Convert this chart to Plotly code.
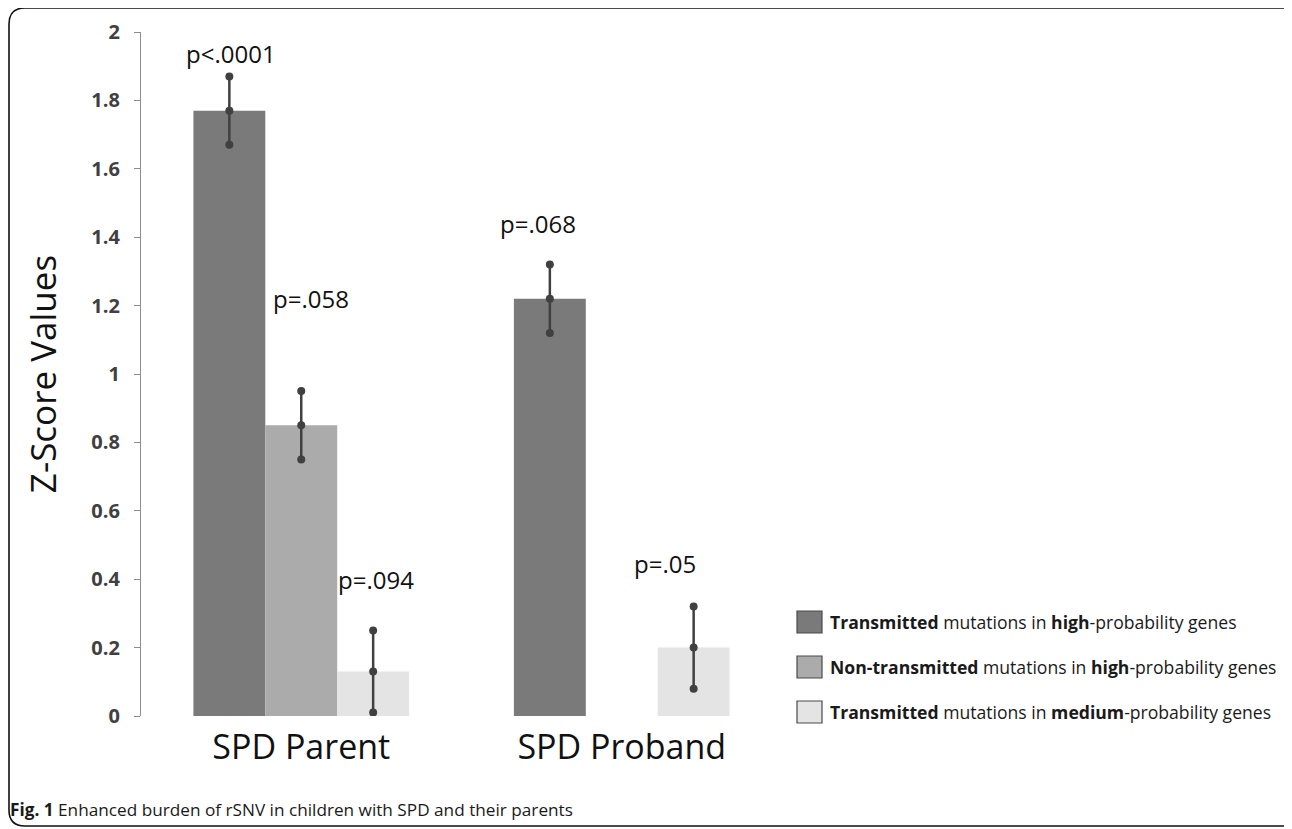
import plotly.graph_objects as go

# ---------------- data ----------------
categories = ["SPD Parent", "SPD Proband"]
series_names = [
    "<b>Transmitted</b> mutations in <b>high</b>-probability genes",
    "<b>Non-transmitted</b> mutations in <b>high</b>-probability genes",
    "<b>Transmitted</b> mutations in <b>medium</b>-probability genes",
]
transmitted_high = [1.77, 1.22]
nontransmitted_high = [0.85, None]
transmitted_medium = [0.13, 0.20]
errors_th = [0.10, 0.10]
errors_nh = [0.10, None]
errors_tm = [0.12, 0.12]
p_labels = ["p<.0001", "p=.058", "p=.094", "p=.068", "p=.05"]
y_ticks = [0, 0.2, 0.4, 0.6, 0.8, 1.0, 1.2, 1.4, 1.6, 1.8, 2.0]

# ---------------- style ----------------
OFF = 8                      # page body margin
W, H = 1292 - OFF, 829 - OFF
PL, PR, PT, PB = 141, 782, 32, 716   # plot area in page pixels
L, R, T, B = PL - OFF, W - (PR - OFF), PT - OFF, H - (PB - OFF)
colors = ["#7a7a7a", "#ababab", "#e4e4e4"]
err_color = "#404040"
FONT = "Open Sans"
BARGAP = 0.327

values = [transmitted_high, nontransmitted_high, transmitted_medium]
errors = [errors_th, errors_nh, errors_tm]

fig = go.Figure()
for i, (vals, col, name) in enumerate(zip(values, colors, series_names)):
    fig.add_trace(go.Bar(
        x=categories, y=vals, name=name, marker_color=col,
        marker_line_width=0, offsetgroup=str(i), showlegend=False,
        hoverinfo="skip",
    ))

# error bars as lines with dots at top, centre and bottom
for i, (vals, errs) in enumerate(zip(values, errors)):
    xs, ys = [], []
    for c, v, e in zip(categories, vals, errs):
        if v is None:
            continue
        xs += [c, c, c, None]
        ys += [v + e, v, v - e, None]
    fig.add_trace(go.Scatter(
        x=xs, y=ys, mode="lines+markers", offsetgroup=str(i),
        line=dict(color=err_color, width=2.5),
        marker=dict(color=err_color, size=8),
        showlegend=False, hoverinfo="skip", connectgaps=False,
    ))

# p-value labels (x in category units, y in data units)
p_pos = [(-0.218, 1.936), (0.031, 1.222), (0.234, 0.398), (0.738, 1.439), (1.134, 0.447)]
for txt, (px, py) in zip(p_labels, p_pos):
    fig.add_annotation(x=px, y=py, xref="x", yref="y", text=txt, showarrow=False,
                       font=dict(family=FONT, size=24, color="#111111"))

pw, ph = PR - PL, PB - PT
def xp(px):
    return (px - PL) / pw
def yp(py):
    return (PB - py) / ph

# legend (manual)
leg_rows = [622, 667, 712]
for name, col, yc in zip(series_names, colors, leg_rows):
    fig.add_shape(type="rect", xref="paper", yref="paper",
                  x0=xp(797), x1=xp(822), y0=yp(yc + 11), y1=yp(yc - 11),
                  fillcolor=col, line=dict(color="#4a4a4a", width=1.2))
    fig.add_annotation(x=xp(828), y=yp(yc), xref="paper", yref="paper",
                       xanchor="left", yanchor="middle", text=name, showarrow=False,
                       font=dict(family=FONT, size=17.6, color="#1a1a1a"))

# caption
fig.add_annotation(x=xp(8), y=yp(810), xref="paper", yref="paper", xanchor="left",
                   yanchor="middle", showarrow=False,
                   text="<b>Fig. 1</b> Enhanced burden of rSNV in children with SPD and their parents",
                   font=dict(family=FONT, size=17.2, color="#1a1a1a"))

# rounded border
x0, x1, y0, y1, r = 9, 1302, 8, 826, 16
path = (f"M {xp(x0)},{yp(y0 + r)} Q {xp(x0)},{yp(y0)} {xp(x0 + r)},{yp(y0)} "
        f"L {xp(x1 - r)},{yp(y0)} Q {xp(x1)},{yp(y0)} {xp(x1)},{yp(y0 + r)} "
        f"L {xp(x1)},{yp(y1 - r)} Q {xp(x1)},{yp(y1)} {xp(x1 - r)},{yp(y1)} "
        f"L {xp(x0 + r)},{yp(y1)} Q {xp(x0)},{yp(y1)} {xp(x0)},{yp(y1 - r)} Z")
fig.add_shape(type="path", xref="paper", yref="paper", path=path,
              line=dict(color="#111111", width=1.6))

fig.update_layout(
    width=W, height=H,
    margin=dict(l=L, r=R, t=T, b=B, autoexpand=False),
    paper_bgcolor="white", plot_bgcolor="white",
    barmode="group", bargap=BARGAP, bargroupgap=0,
    scattermode="group", scattergap=BARGAP,
    showlegend=False,
    xaxis=dict(type="category", range=[-0.5, 1.5], showgrid=False, showline=False,
               ticks="", tickfont=dict(family=FONT, size=34, color="#111111"),
               ticklabelstandoff=8),
    yaxis=dict(range=[0, 2], tickvals=y_ticks, showgrid=False, zeroline=False,
               showline=True, linecolor="#8c8c8c", linewidth=1.3,
               ticks="outside", ticklen=6, tickcolor="#8c8c8c", tickwidth=1.3,
               ticklabelstandoff=10,
               tickfont=dict(family=FONT, size=20, color="#404040", weight="bold"),
               title=dict(text="Z-Score Values", standoff=24,
                          font=dict(family=FONT, size=35, color="#111111"))),
)

fig.write_html("out.html")
